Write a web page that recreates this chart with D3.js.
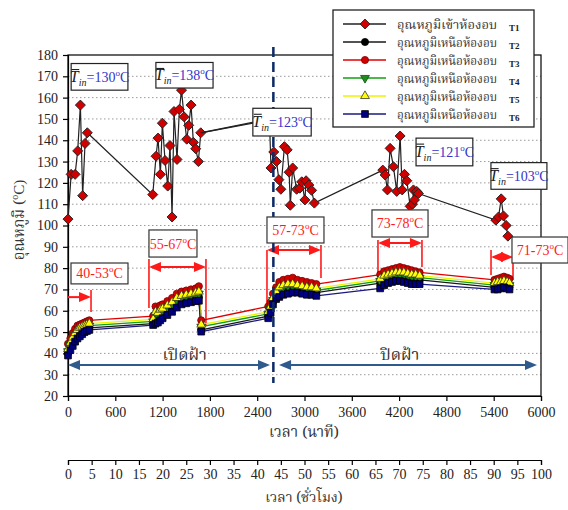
<!DOCTYPE html>
<html>
<head>
<meta charset="utf-8">
<script src="https://cdn.jsdelivr.net/npm/d3@7"></script>
<style>
  body { margin: 0; background: #fff; }
  svg { display: block; }
</style>
</head>
<body>
<div id="chart"></div>
<script>
// ---- data ----
const t1Time = [0, 40, 90, 123, 157, 186, 216, 245,
  1075, 1117, 1142, 1172, 1197, 1231, 1265, 1294, 1320, 1345, 1383, 1413, 1440, 1472, 1506, 1531, 1561, 1590, 1620, 1654, 1684,
  2555, 2575, 2610, 2645, 2675, 2700, 2745, 2780, 2805, 2820, 2850, 2900, 2940, 2965, 3005, 3020, 3055, 3090, 3125,
  3993, 4023, 4052, 4086, 4128, 4170, 4213, 4239, 4268, 4298, 4340, 4370, 4382, 4395, 4424, 4445,
  5427, 5461, 5495, 5524, 5558, 5580];
const t1Temp = [103, 124, 124, 135, 156.5, 114, 138.5, 143.5,
  114.5, 132.5, 141, 124, 148, 130.5, 118.5, 137.5, 104, 153.5, 131, 154.5, 163.5, 151, 140.5, 147, 156.5, 139, 136, 130, 143.5,
  150, 127, 134.5, 130, 121.5, 117, 137, 135.5, 125, 109.5, 127, 117, 117.5, 120.5, 112, 121, 119, 116.5, 110.5,
  126, 123.7, 116.7, 136.2, 127.6, 116, 142, 116.7, 124, 121, 109, 110, 116.7, 112, 116, 115,
  102.5, 104, 112.5, 104.5, 100, 95];

const lowTime = [0, 30, 60, 90, 120, 150, 180, 210, 240, 270,
  1080, 1110, 1140, 1170, 1200, 1260, 1320, 1380, 1440, 1500, 1560, 1620, 1660, 1690,
  2540, 2570, 2600, 2640, 2680, 2730, 2790, 2850, 2910, 2970, 3030, 3090, 3150,
  3960, 4010, 4060, 4110, 4160, 4210, 4260, 4310, 4360, 4410, 4460,
  5410, 5450, 5490, 5530, 5570, 5600];
const t2Temp = [40, 43, 45.5, 47.5, 49, 50, 50.5, 51, 51.5, 52,
  54, 56.5, 56, 57.5, 58.5, 60, 61.5, 63.5, 64.5, 65, 65.5, 66, 66.5, 51,
  57.5, 60, 64, 67, 69, 70, 70.5, 70.5, 70, 69.5, 69, 69, 68.5,
  73, 74.5, 75, 75.5, 76, 76, 76, 75.5, 75, 75, 74.5,
  71, 71.5, 71.5, 72, 71.5, 71];
const t3Temp = [44.5, 47, 49.5, 51.5, 53, 53.5, 54, 54.5, 55, 55.5,
  57.5, 62, 61, 62.5, 63, 64.5, 66, 68, 69, 69.5, 70, 70.5, 71.5, 55.5,
  62, 64, 68, 71, 73.5, 74.5, 75, 75.5, 74.5, 74, 73.5, 73, 72.5,
  77, 78.5, 79, 79.5, 80, 80.5, 80, 79.5, 79, 78.5, 78,
  74.5, 75, 75.5, 76, 75.5, 75];
const t4Temp = [41, 44, 46.5, 48.5, 50, 51, 51.5, 52, 52.5, 53,
  55, 58, 57.5, 59, 60, 61.5, 63, 65, 66, 66.5, 67, 67.5, 68, 52.5,
  58.5, 61, 65, 68, 70, 71, 71.5, 71.5, 71, 70.5, 70, 70, 69.5,
  74, 75.5, 76, 76.5, 77, 77, 77, 76.5, 76, 76, 75.5,
  72, 72.5, 72.5, 73, 72.5, 72];
const t5Temp = [42, 45, 47.5, 49.5, 51, 52, 52.5, 53, 53.5, 54,
  56, 59.5, 59, 60.5, 61, 62.5, 64, 66, 67, 67.5, 68, 68.5, 69, 53.5,
  59.5, 62, 66, 69, 71, 72, 72.5, 72.5, 72, 71.5, 71, 71, 70.5,
  75, 76.5, 77, 77.5, 78, 78, 78, 77.5, 77, 77, 76.5,
  73, 73.5, 73.5, 74, 73.5, 73];
const t6Temp = [39, 41.5, 43.5, 45.5, 47, 48, 49, 50, 50.5, 51,
  53.3, 54, 54.5, 55.5, 56.5, 58, 59.5, 61.5, 63, 63.5, 64, 64.5, 64.7, 50.2,
  56.5, 59, 63, 65.5, 66.5, 67.5, 68, 68.5, 68.5, 68, 67.5, 67.5, 67,
  70.5, 72, 73, 73.5, 74, 74, 73.5, 73, 72.5, 72.5, 72.5,
  70, 70, 70.5, 71, 70.5, 70];

const legendNames = ["อุณหภูมิเข้าห้องอบ", "อุณหภูมิเหนือห้องอบ", "อุณหภูมิเหนือห้องอบ",
  "อุณหภูมิเหนือห้องอบ", "อุณหภูมิเหนือห้องอบ", "อุณหภูมิเหนือห้องอบ"];
const legendCodes = ["T1", "T2", "T3", "T4", "T5", "T6"];

const yTicks = [20, 30, 40, 50, 60, 70, 80, 90, 100, 110, 120, 130, 140, 150, 160, 170, 180];
const xTicks = [0, 600, 1200, 1800, 2400, 3000, 3600, 4200, 4800, 5400, 6000];
const hourTicks = [0, 5, 10, 15, 20, 25, 30, 35, 40, 45, 50, 55, 60, 65, 70, 75, 80, 85, 90, 95, 100];

const tinLabels = ["130", "138", "123", "121", "103"];
const rangeLabels = ["40-53", "55-67", "57-73", "73-78", "71-73"];
const phaseLabels = ["เปิดฝ้า", "ปิดฝ้า"];

// ---- layout ----
const width = 568, height = 510;
const serif = "'Liberation Serif', 'Times New Roman', serif";
const thai = "'Noto Serif Thai', 'Noto Sans Thai', 'Garuda', 'Loma', 'Norasi', 'Liberation Serif', serif";

const x = d3.scaleLinear().domain([0, 6000]).range([68, 541]);
const y = d3.scaleLinear().domain([20, 180]).range([396, 55]);
const xh = d3.scaleLinear().domain([0, 100]).range([68, 541]);

const svg = d3.select("#chart").append("svg")
  .attr("width", width).attr("height", height);

// gridlines
svg.append("g").selectAll("line")
  .data(yTicks.filter(d => d > 20 && d < 180))
  .join("line")
  .attr("x1", x(0)).attr("x2", x(6000))
  .attr("y1", d => y(d)).attr("y2", d => y(d))
  .attr("stroke", "#9a9a9a").attr("stroke-width", 1)
  .attr("stroke-dasharray", "1.5,2.5");

// axes
const yAxis = svg.append("g")
  .attr("transform", `translate(${x(0)},0)`)
  .call(d3.axisLeft(y).tickValues(yTicks).tickSize(5).tickPadding(5).tickFormat(d3.format("d")));
const xAxis = svg.append("g")
  .attr("transform", `translate(0,${y(20)})`)
  .call(d3.axisBottom(x).tickValues(xTicks).tickSize(5).tickPadding(6).tickFormat(d3.format("d")));
const hAxis = svg.append("g")
  .attr("transform", "translate(0,460)")
  .call(d3.axisBottom(xh).tickValues(hourTicks).tickSize(5).tickPadding(4).tickFormat(d3.format("d")));

[yAxis, xAxis, hAxis].forEach(a => {
  a.selectAll("text").attr("font-family", serif).attr("font-size", 14).attr("fill", "#222");
  a.selectAll("line,path").attr("stroke", "#000").attr("stroke-width", 1.2);
});

// frame
svg.append("rect")
  .attr("x", x(0)).attr("y", y(180))
  .attr("width", x(6000) - x(0)).attr("height", y(20) - y(180))
  .attr("fill", "none").attr("stroke", "#000").attr("stroke-width", 1.2);

// axis titles
const yTitle = svg.append("text")
  .attr("transform", "translate(24,220) rotate(-90)")
  .attr("text-anchor", "middle")
  .attr("font-family", thai).attr("font-size", 15).attr("fill", "#333");
yTitle.append("tspan").text("อุณหภูมิ (");
yTitle.append("tspan").attr("font-family", serif).attr("font-size", 10).attr("dy", -6).text("o");
yTitle.append("tspan").attr("font-family", serif).attr("dy", 6).text("C)");

svg.append("text").attr("x", 304).attr("y", 437)
  .attr("text-anchor", "middle").attr("font-family", thai).attr("font-size", 15).attr("fill", "#333")
  .text("เวลา (นาที)");
svg.append("text").attr("x", 304).attr("y", 502)
  .attr("text-anchor", "middle").attr("font-family", thai).attr("font-size", 14).attr("fill", "#333")
  .text("เวลา (ชั่วโมง)");

// phase arrows (blue)
const blue = "#2f5b8c";
function arrowHead(g, tipX, tipY, dir, len, half, color) {
  g.append("path")
    .attr("d", `M${tipX},${tipY} L${tipX - dir * len},${tipY - half} L${tipX - dir * len},${tipY + half} Z`)
    .attr("fill", color);
}
const phases = [[0, 2562, 1480], [2677, 5949, 4211]];
phases.forEach((p, i) => {
  const g = svg.append("g");
  const yy = y(34.5);
  g.append("line").attr("x1", x(p[0]) + 6).attr("x2", x(p[1]) - 6)
    .attr("y1", yy).attr("y2", yy).attr("stroke", blue).attr("stroke-width", 2);
  arrowHead(g, x(p[0]), yy, -1, 12, 5, blue);
  arrowHead(g, x(p[1]), yy, 1, 12, 5, blue);
  g.append("text").attr("x", x(p[2])).attr("y", 360)
    .attr("text-anchor", "middle").attr("font-family", thai).attr("font-size", 16).attr("fill", "#333")
    .text(phaseLabels[i]);
});

// red range markers
const red = "#ff1a1a";
const rangeArrows = [[0, 292, 66.4, false], [1027, 1750, 80.5, true], [2524, 3209, 88.5, true],
  [3932, 4490, 91.8, true], [5366, 5645, 85.2, true]];
const rangeTicks = [[292, 69.7, 59.4], [1027, 84.3, 61.3], [1750, 84.3, 53.3], [2524, 88.5, 61.3],
  [3209, 90.9, 75.4], [3932, 93.2, 75.8], [4490, 93.2, 80.5], [5366, 88.5, 76.8], [5645, 88.5, 74.4]];
const gRed = svg.append("g");
rangeTicks.forEach(t => {
  gRed.append("line").attr("x1", x(t[0])).attr("x2", x(t[0]))
    .attr("y1", y(t[1])).attr("y2", y(t[2])).attr("stroke", red).attr("stroke-width", 1.6);
});
rangeArrows.forEach(a => {
  const yy = y(a[2]);
  gRed.append("line").attr("x1", x(a[0]) + (a[3] ? 8 : 0)).attr("x2", x(a[1]) - 8)
    .attr("y1", yy).attr("y2", yy).attr("stroke", red).attr("stroke-width", 2);
  arrowHead(gRed, x(a[1]), yy, 1, 12, 5, red);
  if (a[3]) arrowHead(gRed, x(a[0]), yy, -1, 12, 5, red);
});

// low-temperature series
const series = [
  { v: t2Temp, line: "#1a1a1a", fill: "#000", stroke: "#000", sym: "circle" },
  { v: t3Temp, line: "#e00000", fill: "#d40000", stroke: "#7a0000", sym: "circle" },
  { v: t4Temp, line: "#10a010", fill: "#1e8c1e", stroke: "#0a4d0a", sym: "down" },
  { v: t5Temp, line: "#f2f200", fill: "#ffff00", stroke: "#333", sym: "up" },
  { v: t6Temp, line: "#1a1a80", fill: "#000080", stroke: "#000", sym: "square" }
];
function symPath(sym) {
  if (sym === "circle") return d3.symbol(d3.symbolCircle, 40)();
  if (sym === "square") return d3.symbol(d3.symbolSquare, 46)();
  if (sym === "diamond") return d3.symbol(d3.symbolSquare, 50)();
  return d3.symbol(d3.symbolTriangle, 34)();
}
function symRot(sym) {
  return sym === "down" ? 180 : sym === "diamond" ? 45 : 0;
}
const line = d3.line().x(d => x(d[0])).y(d => y(d[1]));
series.forEach(s => {
  const pts = lowTime.map((t, i) => [t, s.v[i]]);
  svg.append("path").datum(pts).attr("d", line)
    .attr("fill", "none").attr("stroke", s.line).attr("stroke-width", 1.3);
});
series.forEach(s => {
  const pts = lowTime.map((t, i) => [t, s.v[i]]);
  svg.append("g").selectAll("path").data(pts).join("path")
    .attr("d", symPath(s.sym))
    .attr("transform", d => `translate(${x(d[0])},${y(d[1])}) rotate(${symRot(s.sym)})`)
    .attr("fill", s.fill).attr("stroke", s.stroke).attr("stroke-width", 0.8);
});

// inlet temperature T1
const t1Pts = t1Time.map((t, i) => [t, t1Temp[i]]);
svg.append("path").datum(t1Pts).attr("d", line)
  .attr("fill", "none").attr("stroke", "#222").attr("stroke-width", 1.2);
svg.append("g").selectAll("path").data(t1Pts).join("path")
  .attr("d", symPath("diamond"))
  .attr("transform", d => `translate(${x(d[0])},${y(d[1])}) rotate(45)`)
  .attr("fill", "#d00000").attr("stroke", "#222").attr("stroke-width", 0.9);

// lid change line
svg.append("line")
  .attr("x1", x(2605)).attr("x2", x(2605))
  .attr("y1", y(183.7)).attr("y2", y(26.1))
  .attr("stroke", "#0d2a66").attr("stroke-width", 2.5)
  .attr("stroke-dasharray", "10,5");

// average inlet temperature boxes
const tinBoxes = [[40, 760, 176, 163.5], [1115, 1840, 176.5, 164.5], [2345, 3085, 155, 142],
  [4415, 5135, 141, 128], [5365, 6075, 129.5, 117]];
tinBoxes.forEach((b, i) => {
  const g = svg.append("g");
  const bx = x(b[0]), bw = x(b[1]) - x(b[0]), by = y(b[2]), bh = y(b[3]) - y(b[2]);
  g.append("rect").attr("x", bx).attr("y", by).attr("width", bw).attr("height", bh)
    .attr("fill", "#fff").attr("stroke", "#222").attr("stroke-width", 1.2);
  const tx = g.append("text").attr("x", bx + bw / 2).attr("y", by + bh / 2 + 5)
    .attr("text-anchor", "middle").attr("font-family", serif).attr("font-size", 14).attr("fill", "#3535c8");
  tx.append("tspan").attr("font-style", "italic").attr("fill", "#222").attr("font-size", 16).text("T");
  tx.append("tspan").attr("font-style", "italic").attr("fill", "#222").attr("font-size", 10).attr("dy", 4).text("in");
  tx.append("tspan").attr("dy", -4).text("=" + tinLabels[i]);
  tx.append("tspan").attr("font-size", 9).attr("dy", -6).text("o");
  tx.append("tspan").attr("dy", 6).text("C");
  const node = tx.node();
  const p0 = node.getStartPositionOfChar(0), p1 = node.getEndPositionOfChar(0);
  g.append("line").attr("x1", p0.x + 1.5).attr("x2", p1.x + 0.5)
    .attr("y1", by + 6).attr("y2", by + 6).attr("stroke", "#222").attr("stroke-width", 1.1);
});
// leader line from group 2 to its label
svg.append("line").attr("x1", x(1684)).attr("y1", y(143.5)).attr("x2", x(2345)).attr("y2", y(148))
  .attr("stroke", "#222").attr("stroke-width", 1.2);

// temperature range boxes
const rangeBoxes = [[38, 761, 82.4, 72.6], [1027, 1636, 97.9, 85.2], [2524, 3247, 104, 91.8],
  [3856, 4567, 107.3, 94.6], [5632, 6343, 94.6, 82.4]];
rangeBoxes.forEach((b, i) => {
  const g = svg.append("g");
  const bx = x(b[0]), bw = x(b[1]) - x(b[0]), by = y(b[2]), bh = y(b[3]) - y(b[2]);
  g.append("rect").attr("x", bx).attr("y", by).attr("width", bw).attr("height", bh)
    .attr("fill", "#fff").attr("stroke", "#333").attr("stroke-width", 1.2);
  const tx = g.append("text").attr("x", bx + bw / 2).attr("y", by + bh / 2 + 5)
    .attr("text-anchor", "middle").attr("font-family", serif).attr("font-size", 14).attr("fill", red);
  tx.append("tspan").text(rangeLabels[i]);
  tx.append("tspan").attr("font-size", 9).attr("dy", -6).text("o");
  tx.append("tspan").attr("dy", 6).text("C");
});

// legend
const lg = svg.append("g");
lg.append("rect").attr("x", 333).attr("y", 10).attr("width", 201).attr("height", 117)
  .attr("fill", "#fff").attr("stroke", "#222").attr("stroke-width", 1.3);
const legendStyle = [
  { line: "#222", fill: "#d00000", stroke: "#222", sym: "diamond" },
  ...series
];
legendStyle.forEach((s, i) => {
  const yy = 24 + i * 18;
  lg.append("line").attr("x1", 343).attr("x2", 386).attr("y1", yy).attr("y2", yy)
    .attr("stroke", s.line).attr("stroke-width", 1.3);
  lg.append("path").attr("d", symPath(s.sym))
    .attr("transform", `translate(365,${yy}) rotate(${symRot(s.sym)})`)
    .attr("fill", s.fill).attr("stroke", s.stroke).attr("stroke-width", 0.8);
  lg.append("text").attr("x", 397).attr("y", yy + 5)
    .attr("font-family", thai).attr("font-size", 12).attr("fill", "#333")
    .attr("textLength", 100).attr("lengthAdjust", "spacingAndGlyphs")
    .text(legendNames[i]);
  lg.append("text").attr("x", 509).attr("y", yy + 7)
    .attr("font-family", serif).attr("font-size", 9).attr("font-weight", "bold").attr("fill", "#222")
    .text(legendCodes[i]);
});
</script>
</body>
</html>
